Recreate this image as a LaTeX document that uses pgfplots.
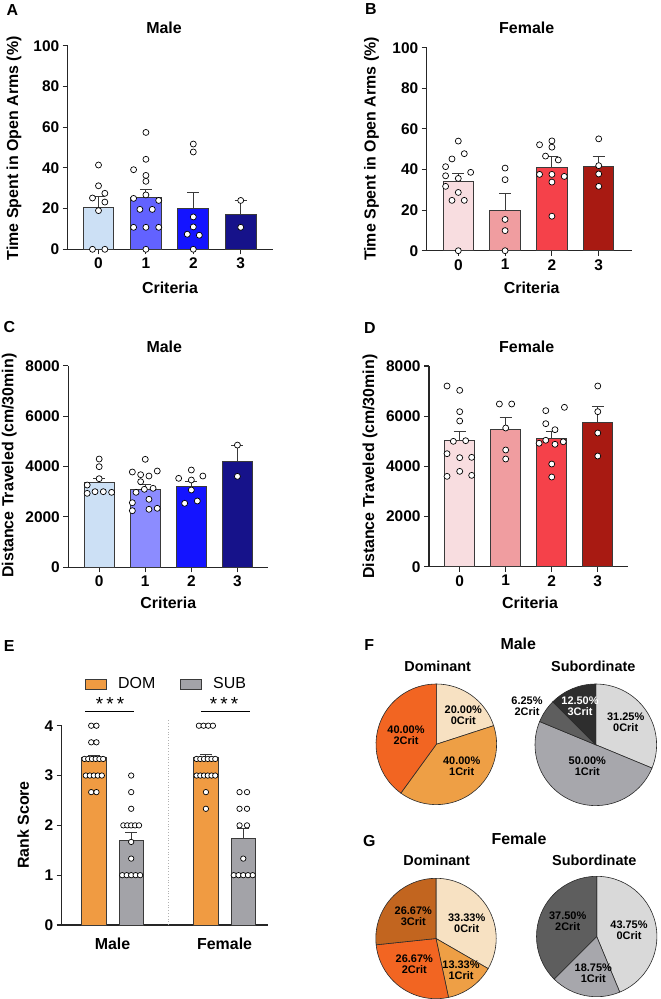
\documentclass[border=0pt]{standalone}
\usepackage{fontspec}
\setmainfont{Liberation Sans}
\usepackage{pgfplots}
\pgfplotsset{compat=1.18}

\definecolor{edge}{HTML}{3A3A3A}
\definecolor{pieedge}{HTML}{2A2A2A}
\definecolor{a0}{HTML}{CCE0F5}
\definecolor{a1}{HTML}{6262FF}
\definecolor{c1}{HTML}{8C8CFF}
\definecolor{a2}{HTML}{1414FF}
\definecolor{a3}{HTML}{16128A}
\definecolor{b0}{HTML}{F8DDE0}
\definecolor{b1}{HTML}{F09DA0}
\definecolor{b2}{HTML}{F5414A}
\definecolor{b3}{HTML}{A81A12}
\definecolor{domc}{HTML}{F09B42}
\definecolor{subc}{HTML}{A3A3A8}
\definecolor{beige}{HTML}{F7E1C2}
\definecolor{orng}{HTML}{EE9F45}
\definecolor{redor}{HTML}{F26522}
\definecolor{brown}{HTML}{C2651F}
\definecolor{lgray}{HTML}{D9D9D9}
\definecolor{mgray}{HTML}{A7A7AC}
\definecolor{dgray}{HTML}{5E5E5E}
\definecolor{vdgray}{HTML}{2E2E2E}

\newcommand{\lab}{\fontsize{16}{18}\selectfont\bfseries}
\newcommand{\sub}{\fontsize{14.5}{16}\selectfont\bfseries}
\newcommand{\pl}{\fontsize{11}{11}\selectfont\bfseries}

\pgfplotsset{
  panel/.style={
    scale only axis, anchor=south west,
    axis x line=bottom, axis y line=left,
    axis line style={-, line width=1.1bp, draw=black!85},
    every tick/.style={line width=1.1bp, draw=black!85},
    tick align=outside, major tick length=5bp,
    tick label style={font=\fontsize{15.5}{16}\selectfont\bfseries},
    /pgf/number format/assume math mode=true,
    /pgf/number format/1000 sep={},
    scaled y ticks=false,
    clip=false,
  },
  mybar/.style={ybar, bar width=0.65, bar shift=0pt, draw=edge, line width=0.9bp, fill=#1,
    /pgfplots/error bars/y dir=plus,
    /pgfplots/error bars/y explicit,
    /pgfplots/error bars/error bar style={line width=1bp, draw=edge},
    /pgfplots/error bars/error mark options={rotate=90, mark size=6bp, line width=1bp, draw=edge}},
  pts/.style={only marks, mark=*, mark size=3bp, mark options={fill=white, draw=black, line width=0.7bp}},
  pie/.style={hide axis, scale only axis, anchor=center, width=#1, height=#1,
    xmin=-1, xmax=1, ymin=-1, ymax=1, clip=false},
}

% color, cumulative start percent, percent, radius
\newcommand{\pieslice}[4]{%
  \addplot[fill=#1, draw=pieedge, line width=0.6bp] coordinates {(0,0)}
    -- ([shift={({90-3.6*(#2)}:#4)}]axis cs:0,0)
    arc[start angle={90-3.6*(#2)}, delta angle={-3.6*(#3)}, radius=#4] -- cycle;}

\begin{document}
\begin{tikzpicture}
\path[use as bounding box] (0,0) rectangle (661bp,-999bp);

% ---------------- A ----------------
\begin{axis}[panel, at={(67.7bp,-249.3bp)}, width=205bp, height=203.6bp,
  xmin=-0.65, xmax=3.675, ymin=0, ymax=100, xtick={0,1,2,3}, ytick={0,20,40,60,80,100}]
\addplot[mybar=a0] coordinates {(0,20.6) +- (0,5.3)};
\addplot[mybar=a1] coordinates {(1,25.5) +- (0,4.1)};
\addplot[mybar=a2] coordinates {(2,20.0) +- (0,8.0)};
\addplot[mybar=a3] coordinates {(3,17.2) +- (0,6.8)};
\addplot[pts] coordinates {
 (0,41.4) (0,31.2) (0.134,27.5) (-0.127,25.2) (0.134,23.2) (0,19.0) (-0.127,0) (0.134,0)
 (1,57.4) (1,44.2) (0.74,39.1) (1,36.3) (1,33.4) (1,26.7) (0.74,25.0) (1.27,24.0)
 (0.873,19.6) (1.134,19.6) (0.74,10.8) (1,10.8) (1.27,10.8) (1,0)
 (2,51.7) (2,47.8) (2,15.9) (2,11.0) (1.873,7.4) (2.127,6.9) (2,0)
 (3,24.0) (3,10.8)};
\end{axis}

% ---------------- B ----------------
\begin{axis}[panel, at={(426.7bp,-250.7bp)}, width=205bp, height=203bp,
  xmin=-0.675, xmax=3.705, ymin=0, ymax=100, xtick={0,1,2,3}, ytick={0,20,40,60,80,100}]
\addplot[mybar=b0] coordinates {(0,34.0) +- (0,4.1)};
\addplot[mybar=b1] coordinates {(1,20.0) +- (0,8.1)};
\addplot[mybar=b2] coordinates {(2,41.0) +- (0,5.6)};
\addplot[mybar=b3] coordinates {(3,41.4) +- (0,5.2)};
\addplot[pts] coordinates {
 (0,54.0) (0.128,47.8) (-0.135,45.2) (-0.271,41.4) (0.264,38.6) (-0.271,36.9) (0,35.6)
 (-0.271,31.7) (0,28.7) (-0.135,24.8) (0.128,24.8) (0,0)
 (1,40.7) (1,35.0) (1,15.4) (1,9.9) (1,0)
 (2,54.1) (1.736,52.2) (2,51.0) (1.864,46.6) (2.136,44.7) (1.736,37.6) (2,37.6)
 (2.264,36.6) (2,33.8) (2,17.0)
 (3,55.1) (3,41.9) (3,37.8) (3,31.7)};
\end{axis}

% ---------------- C ----------------
\begin{axis}[panel, at={(68.3bp,-567.3bp)}, width=200bp, height=201.6bp,
  xmin=-0.67, xmax=3.67, ymin=0, ymax=8000, xtick={0,1,2,3}, ytick={0,2000,4000,6000,8000}]
\addplot[mybar=a0] coordinates {(0,3358) +- (0,172)};
\addplot[mybar=c1] coordinates {(1,3107) +- (0,198)};
\addplot[mybar=a2] coordinates {(2,3212) +- (0,212)};
\addplot[mybar=a3] coordinates {(3,4217) +- (0,635)};
\addplot[pts] coordinates {
 (0,4297) (0,3993) (0,3517) (-0.26,3265) (-0.26,2935) (-0.09,3001) (0.09,3001) (0.27,2975)
 (1,4285) (0.72,3782) (0.9,3675) (1.08,3623) (1.26,3821) (0.9,3397) (0.98,3095)
 (1.17,3135) (0.8,2976) (1.08,2698) (0.72,2563) (0.72,2246) (1.08,2301) (1.26,2341)
 (2,3861) (1.725,3531) (2,3464) (2.25,3623) (2,3067) (2.13,2631) (1.855,2540)
 (3,4850) (3,3609)};
\end{axis}

% ---------------- D ----------------
\begin{axis}[panel, at={(429bp,-566.7bp)}, width=198.7bp, height=200.7bp,
  xmin=-0.667, xmax=3.65, ymin=0, ymax=8000, xtick={0,1,2,3}, ytick={0,2000,4000,6000,8000}]
\addplot[mybar=b0] coordinates {(0,5023) +- (0,372)};
\addplot[mybar=b1] coordinates {(1,5475) +- (0,479)};
\addplot[mybar=b2] coordinates {(2,5117) +- (0,265)};
\addplot[mybar=b3] coordinates {(3,5768) +- (0,611)};
\addplot[pts] coordinates {
 (-0.275,7203) (0,7030) (0,6180) (0,5808) (-0.138,4997) (0.13,5023) (-0.275,4505)
 (0,4346) (0.26,4360) (0,3801) (-0.275,3602) (0.26,3641)
 (0.862,6486) (1.13,6486) (1,5529) (1,4652) (1,4293)
 (2.275,6353) (1.87,6220) (1.87,5701) (2.07,5462) (1.725,4920) (1.87,5040)
 (2.07,4880) (2.25,4980) (2,4093) (2,3575)
 (3,7203) (3,6180) (3,5329) (3,4412)};
\end{axis}

% ---------------- E ----------------
\begin{axis}[panel, at={(61.7bp,-925bp)}, width=206.6bp, height=199.3bp,
  xmin=-0.86, xmax=4.67, ymin=0, ymax=4, ytick={0,1,2,3,4},
  xtick={0.5,3.5}, xticklabels={Male,Female},
  xtick style={draw=none},
  xticklabel style={font=\lab, yshift=-4bp},
  legend style={draw=none, fill=none, inner sep=0pt, at={(axis description cs:0.113,1.209)},
    anchor=west, font=\fontsize{16}{16}\selectfont, legend columns=2,
    /tikz/every odd column/.append style={column sep=9bp},
    /tikz/every even column/.append style={column sep=23bp}},
  legend cell align=left]
\addlegendimage{legend image code/.code={\draw[fill=domc, draw=edge, line width=0.9bp] (0bp,-5bp) rectangle (21bp,5bp);}}
\addlegendimage{legend image code/.code={\draw[fill=subc, draw=edge, line width=0.9bp] (0bp,-5bp) rectangle (21bp,5bp);}}
\legend{DOM,SUB}
\addplot[gray!60, dotted, line width=0.8bp] coordinates {(2,0) (2,4.12)};
\addplot[mybar=domc] coordinates {(0,3.36) +- (0,0.05) (3,3.36) +- (0,0.06)};
\addplot[mybar=subc] coordinates {(1,1.69) +- (0,0.16) (4,1.74) +- (0,0.20)};
\addplot[pts, mark size=2.7bp] coordinates {
 (-0.07,4) (0.07,4) (-0.07,3.667) (0.07,3.667)
 (-0.25,3.333) (-0.15,3.333) (-0.05,3.333) (0.05,3.333) (0.15,3.333) (0.25,3.333)
 (-0.214,3) (-0.107,3) (0,3) (0.107,3) (0.214,3)
 (-0.07,2.667) (0.07,2.667)
 (1,3) (1,2.667) (1,2.333)
 (0.79,2) (0.895,2) (1,2) (1.105,2) (1.21,2)
 (1,1.667) (1,1.333)
 (0.76,1) (0.88,1) (1,1) (1.12,1) (1.24,1)
 (2.8125,4) (2.9375,4) (3.0625,4) (3.1875,4)
 (2.75,3.333) (2.85,3.333) (2.95,3.333) (3.05,3.333) (3.15,3.333) (3.25,3.333)
 (2.75,3) (2.85,3) (2.95,3) (3.05,3) (3.15,3) (3.25,3)
 (3,2.667) (3,2.333)
 (3.9,2.667) (4.1,2.667) (3.9,2.333) (4.1,2.333) (3.9,2) (4.1,2) (4,1.333)
 (3.746,1) (3.873,1) (4,1) (4.127,1) (4.254,1)};
\addplot[black, line width=1bp] coordinates {(-0.236,4.28) (1.076,4.28)};
\addplot[black, line width=1bp] coordinates {(2.87,4.28) (4.18,4.28)};
\node[font=\fontsize{19}{19}\selectfont] at (axis cs:0.434,4.43) {*\,*\,*};
\node[font=\fontsize{19}{19}\selectfont] at (axis cs:3.485,4.43) {*\,*\,*};
\end{axis}

% ---------------- F pies ----------------
\begin{axis}[pie=120.6bp, at={(436.3bp,-744.3bp)}]
\pieslice{beige}{0}{20}{60.3bp}
\pieslice{orng}{20}{40}{60.3bp}
\pieslice{redor}{60}{40}{60.3bp}
\end{axis}
\begin{axis}[pie=121.6bp, at={(595.8bp,-744.8bp)}]
\pieslice{lgray}{0}{31.25}{60.8bp}
\pieslice{mgray}{31.25}{50}{60.8bp}
\pieslice{dgray}{81.25}{6.25}{60.8bp}
\pieslice{vdgray}{87.5}{12.5}{60.8bp}
\end{axis}

% ---------------- G pies ----------------
\begin{axis}[pie=120.4bp, at={(436bp,-938.5bp)}]
\pieslice{beige}{0}{33.33}{60.2bp}
\pieslice{orng}{33.33}{13.33}{60.2bp}
\pieslice{redor}{46.67}{26.67}{60.2bp}
\pieslice{brown}{73.33}{26.67}{60.2bp}
\end{axis}
\begin{axis}[pie=120.4bp, at={(596.7bp,-936.5bp)}]
\pieslice{lgray}{0}{43.75}{60.2bp}
\pieslice{mgray}{43.75}{18.75}{60.2bp}
\pieslice{dgray}{62.5}{37.5}{60.2bp}
\end{axis}

% ---------------- texts ----------------
\begin{scope}[x=1bp, y=-1bp, every node/.style={font=\lab}]
\node at (12.5,10) {A};
\node at (164,28) {Male};
\node[rotate=90] at (14,148.3) {Time Spent in Open Arms (\%)};
\node at (170,288) {Criteria};
\node at (371,9.5) {B};
\node at (526.7,28.3) {Female};
\node[rotate=90] at (371.5,149) {Time Spent in Open Arms (\%)};
\node at (531.7,288.3) {Criteria};
\node at (9.5,327.5) {C};
\node at (164.3,346.7) {Male};
\node[rotate=90] at (9.2,465.7) {Distance Traveled (cm/30min)};
\node at (168.3,603.3) {Criteria};
\node at (370,328) {D};
\node at (526.7,346.7) {Female};
\node[rotate=90] at (370,466.7) {Distance Traveled (cm/30min)};
\node at (530,603.3) {Criteria};
\node at (9.2,645.8) {E};
\node[rotate=90] at (23.3,825) {Rank Score};
\node at (369.3,645) {F};
\node at (518.3,644) {Male};
\node[font=\sub] at (437.7,666.7) {Dominant};
\node[font=\sub] at (593.3,666.7) {Subordinate};
\node at (369.3,840.7) {G};
\node at (519,839.3) {Female};
\node[font=\sub] at (436.7,860.7) {Dominant};
\node[font=\sub] at (594.3,860.7) {Subordinate};
\begin{scope}[every node/.style={font=\pl, align=center, inner sep=0pt}]
\node at (463.3,715) {20.00\%\\0Crit};
\node at (461.7,766.7) {40.00\%\\1Crit};
\node at (406,735) {40.00\%\\2Crit};
\node at (625.7,722.7) {31.25\%\\0Crit};
\node at (587.3,766.7) {50.00\%\\1Crit};
\node at (527,706) {6.25\%\\2Crit};
\node[text=white] at (580,706) {12.50\%\\3Crit};
\node at (466.7,923.3) {33.33\%\\0Crit};
\node at (461,970) {13.33\%\\1Crit};
\node at (414.3,964) {26.67\%\\2Crit};
\node at (413.3,916) {26.67\%\\3Crit};
\node at (629,930) {43.75\%\\0Crit};
\node at (593.3,973.3) {18.75\%\\1Crit};
\node at (567.7,921.7) {37.50\%\\2Crit};
\end{scope}
\end{scope}
\end{tikzpicture}
\end{document}
